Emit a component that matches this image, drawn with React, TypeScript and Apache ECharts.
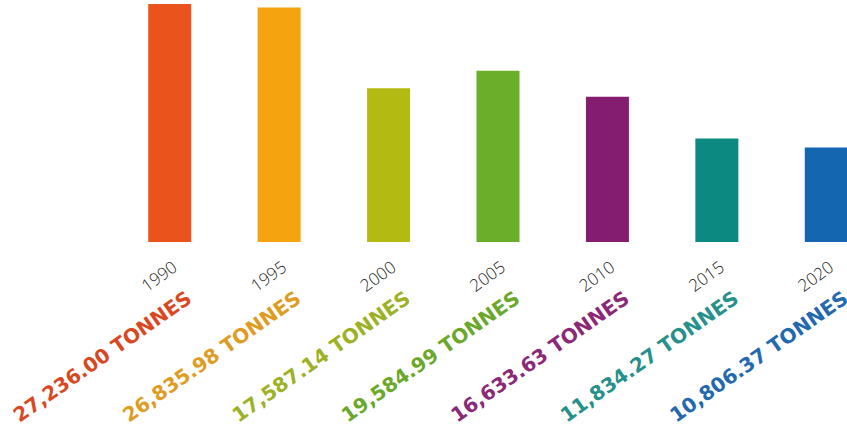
import React, { useEffect, useRef } from "react";
import * as echarts from "echarts";

const years = ["1990", "1995", "2000", "2005", "2010", "2015", "2020"];
const tonnes = [27236.0, 26835.98, 17587.14, 19584.99, 16633.63, 11834.27, 10806.37];
const barColors = ["#EA531C", "#F5A30F", "#B3BB12", "#6BAE2A", "#841C6F", "#0C8A82", "#1466B0"];
const labelColors = ["#D9481F", "#DE9C22", "#9CB224", "#6AA82A", "#8C2977", "#26918A", "#2468AE"];

function fmt(v: number): string {
  return (
    v.toLocaleString("en-US", { minimumFractionDigits: 2, maximumFractionDigits: 2 }) + " TONNES"
  );
}

export default function App() {
  const ref = useRef<HTMLDivElement>(null);
  useEffect(() => {
    if (!ref.current) return;
    const chart = echarts.init(ref.current, null, { renderer: "svg" });
    chart.setOption({
      animation: false,
      backgroundColor: "#ffffff",
      grid: {
        left: 115,
        width: 766,
        top: 0,
        bottom: 188,
        containLabel: false,
        outerBoundsMode: "none",
      },
      xAxis: {
        type: "category",
        data: years,
        axisLine: { show: false },
        axisTick: { show: false },
        axisLabel: {
          show: true,
          rotate: 36,
          margin: 26,
          padding: [0, -6, 0, 0],
          fontFamily: "Open Sans",
          fontWeight: 300,
          fontSize: 17,
          color: "#1f1f1f",
        },
        splitLine: { show: false },
      },
      yAxis: { type: "value", min: 0, max: 27695, show: false, splitLine: { show: false } },
      series: [
        {
          type: "bar",
          barWidth: 43,
          data: tonnes.map((v, i) => ({
            value: v,
            itemStyle: { color: barColors[i] },
            label: { color: labelColors[i] },
          })),
          label: {
            show: true,
            position: ["50%", "100%"],
            offset: [-15, 55],
            rotate: 35,
            align: "right",
            verticalAlign: "middle",
            fontFamily: "DejaVu Sans",
            fontWeight: "bold",
            fontSize: 20,
            formatter: (p: any) => fmt(tonnes[p.dataIndex]),
          },
        },
      ],
    });
    return () => chart.dispose();
  }, []);
  return (
    <div
      ref={ref}
      style={{ position: "fixed", left: 0, top: 0, width: 847, height: 430, background: "#fff" }}
    />
  );
}
